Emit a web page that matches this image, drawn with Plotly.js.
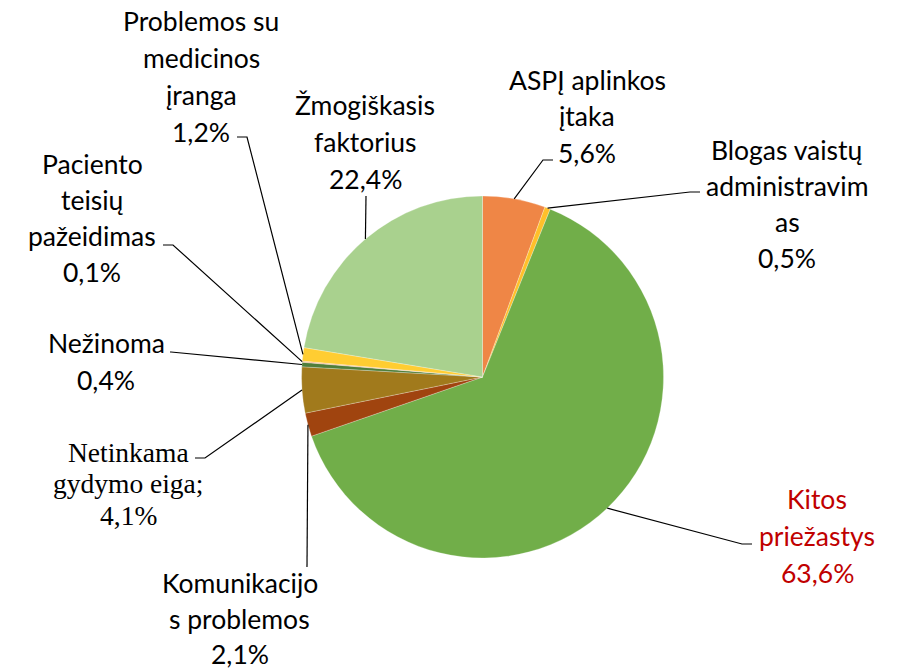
<!DOCTYPE html>
<html>
<head>
<meta charset="utf-8">
<script src="https://cdn.plot.ly/plotly-3.0.1.min.js"></script>
<style>html,body{margin:0;padding:0;background:#fff;}#chart{width:902px;height:671px;}</style>
</head>
<body>
<div id="chart"></div>
<script>
// ---- data ----
const categories = ["ASPĮ aplinkos įtaka", "Blogas vaistų administravimas", "Kitos priežastys",
  "Komunikacijos problemos", "Netinkama gydymo eiga", "Nežinoma", "Paciento teisių pažeidimas",
  "Problemos su medicinos įranga", "Žmogiškasis faktorius"];
const values = [5.6, 0.5, 63.6, 2.1, 4.1, 0.4, 0.1, 1.2, 22.4];
const labelLines = [
  ["ASPĮ aplinkos", "įtaka"],
  ["Blogas vaistų", "administravim", "as"],
  ["Kitos", "priežastys"],
  ["Komunikacijo", "s problemos"],
  ["Netinkama", "gydymo eiga;"],
  ["Nežinoma"],
  ["Paciento", "teisių", "pažeidimas"],
  ["Problemos su", "medicinos", "įranga"],
  ["Žmogiškasis", "faktorius"]
];

// ---- styles ----
const colors = ["#EF8646", "#FFC02A", "#71AE49", "#A0440F", "#A17A1C", "#507E3A", "#F4B183", "#FFCD32", "#A9D18E"];
const W = 902, H = 671;
const dom = {x: [0.3343, 0.7356], y: [0.1684, 0.7079]};
// label placement: [centerX, firstLineY, lineSpacing, font, color]
const labelPos = [
  [587, 80, 36.5, "sans", "#000"],
  [787, 150, 36, "sans", "#000"],
  [817, 499, 37, "sans", "#C00000"],
  [240, 583, 35.5, "sans", "#000"],
  [128, 452, 31.5, "serif", "#000"],
  [106, 343, 37, "sans", "#000"],
  [92, 164, 36, "sans", "#000"],
  [201, 21, 37, "sans", "#000"],
  [365, 105, 37, "sans", "#000"]
];
// leader lines: knee point and end point (pixels)
const leaderPts = [
  [[543, 160], [553, 160]],
  [[690, 192], [700, 192]],
  [[742, 544], [752, 544]],
  [[307, 567], [307, 567]],
  [[205, 458], [195, 458]],
  [[171, 352], [170, 352]],
  [[173, 245], [163, 245]],
  [[247, 137], [237, 137]],
  [[366, 196], [366, 196]]
];

const fonts = {sans: "Lato, 'Open Sans', sans-serif", serif: "'Liberation Serif', 'DejaVu Serif', serif"};
const fsize = {sans: 26.5, serif: 27.5};

const cx = (dom.x[0] + dom.x[1]) / 2 * W;
const cy = (1 - (dom.y[0] + dom.y[1]) / 2) * H;
const r = Math.min((dom.x[1] - dom.x[0]) * W, (dom.y[1] - dom.y[0]) * H) / 2;
const total = values.reduce((a, b) => a + b, 0);

const annotations = [];
const shapes = [];
let cum = 0;
values.forEach((v, i) => {
  const th = (cum + v / 2) / total * 2 * Math.PI;
  cum += v;
  const ex = cx + r * Math.sin(th), ey = cy - r * Math.cos(th);
  const [knee, end] = leaderPts[i];
  shapes.push({
    type: "path", xref: "paper", yref: "paper",
    path: `M ${ex / W} ${1 - ey / H} L ${knee[0] / W} ${1 - knee[1] / H} L ${end[0] / W} ${1 - end[1] / H}`,
    line: {color: "#000", width: 1.2}
  });
  const lines = labelLines[i].concat([v.toFixed(1).replace(".", ",") + "%"]);
  const [lx, ly, sp, f, col] = labelPos[i];
  lines.forEach((t, k) => {
    annotations.push({
      text: t, xref: "paper", yref: "paper",
      x: lx / W, y: 1 - (ly + k * sp) / H,
      xanchor: "center", yanchor: "middle", showarrow: false,
      font: {family: fonts[f], size: fsize[f], color: col}
    });
  });
});

const trace = {
  type: "pie", labels: categories, values: values, sort: false,
  direction: "clockwise", rotation: 0, textinfo: "none", hoverinfo: "label+percent",
  marker: {colors: colors, line: {color: "rgba(255,255,255,0.5)", width: 0.5}},
  domain: dom, showlegend: false
};

Plotly.newPlot("chart", [trace], {
  width: W, height: H, margin: {l: 0, r: 0, t: 0, b: 0},
  paper_bgcolor: "#fff", showlegend: false,
  annotations: annotations, shapes: shapes
}, {displayModeBar: false, staticPlot: true});
</script>
</body>
</html>
